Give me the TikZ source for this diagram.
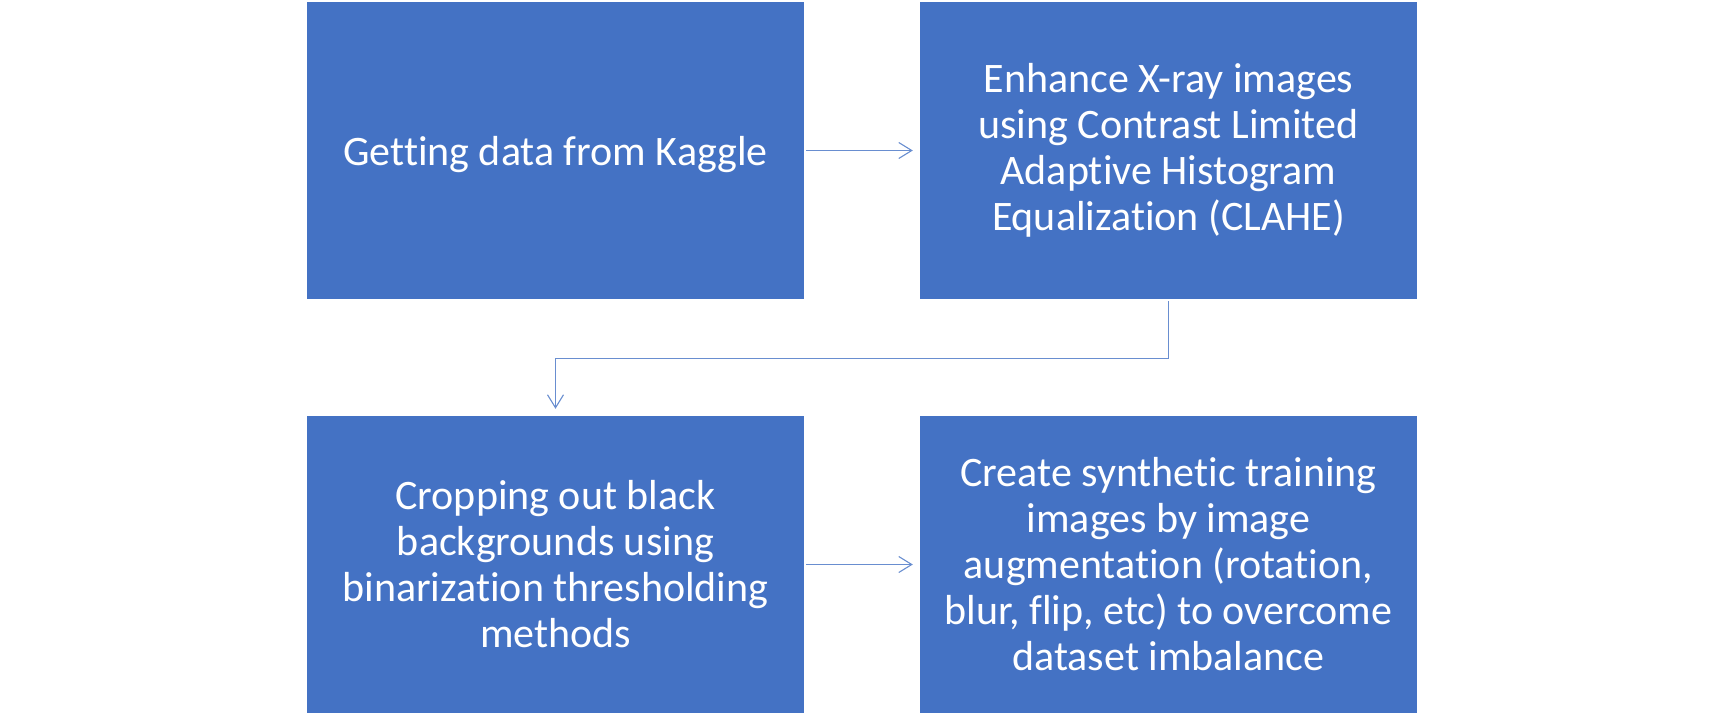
\documentclass[tikz,border=0pt]{standalone}
\usepackage{fontspec}
\setmainfont[Ligatures={NoCommon}]{Carlito}
\usetikzlibrary{arrows.meta}
\definecolor{boxblue}{HTML}{4472C4}
\tikzset{
  box/.style={rectangle, fill=boxblue, draw=none, minimum width=497pt, minimum height=297pt, inner sep=0pt, text=white, align=center, font=\fontsize{42}{46}\selectfont},
  conn/.style={draw=boxblue!80, line width=1.1pt, -{Straight Barb[length=13pt,width=16pt,line width=1.1pt]}, shorten <=2pt, shorten >=7pt}
}
\begin{document}
\begin{tikzpicture}[x=1pt,y=1pt]
\useasboundingbox (0,0) rectangle (1725,-715);
\node[box] (b1) at (555.5,-150.5) {};
\node[text=white, font=\fontsize{42}{46}\selectfont, inner sep=0pt] (t1) at ([yshift=-4.5pt]b1.center) {Getting data from Kaggle};
\node[box] (b2) at (1168.5,-150.5) {Enhance X-ray images\\using Contrast Limited\\Adaptive Histogram\\Equalization (CLAHE)};
\node[box] (b3) at (555.5,-564.5) {Cropping out black\\backgrounds using\\binarization thresholding\\methods};
\node[box] (b4) at (1168.5,-564.5) {Create synthetic training\\images by image\\augmentation (rotation,\\blur, flip, etc) to overcome\\dataset imbalance};
\draw[conn] (b1.east) -- (b2.west);
\draw[conn] (b3.east) -- (b4.west);
\draw[conn] (b2.south) -- ([yshift=-59pt]b2.south) -| (b3.north);
\end{tikzpicture}
\end{document}
